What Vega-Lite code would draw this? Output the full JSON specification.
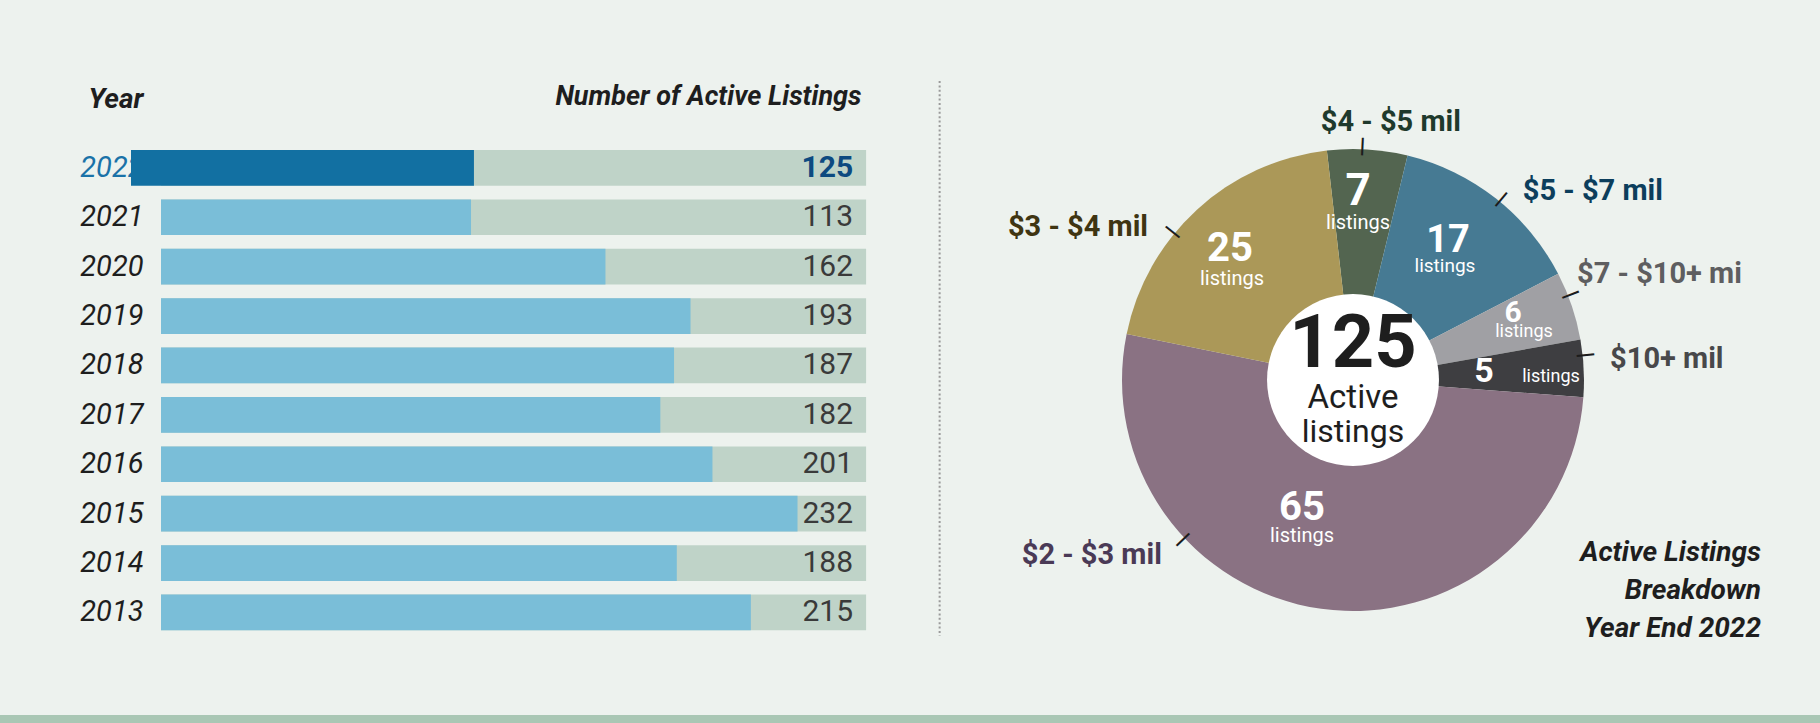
{
  "$schema": "https://vega.github.io/schema/vega-lite/v6.json",
  "background": "#edf2ee",
  "padding": 0,
  "autosize": {"type": "pad"},
  "bounds": "full",
  "spacing": 0,
  "config": {
    "view": {"stroke": null},
    "font": "Roboto",
    "text": {"font": "Roboto"},
    "axis": {"labelFont": "Roboto", "titleFont": "Roboto", "grid": false},
    "title": {"font": "Roboto"}
  },
  "datasets": {
    "listings": [
      {"year": 2022, "count": 125},
      {"year": 2021, "count": 113},
      {"year": 2020, "count": 162},
      {"year": 2019, "count": 193},
      {"year": 2018, "count": 187},
      {"year": 2017, "count": 182},
      {"year": 2016, "count": 201},
      {"year": 2015, "count": 232},
      {"year": 2014, "count": 188},
      {"year": 2013, "count": 215}
    ],
    "breakdown": [
      {"range": "$4 - $5 mil", "count": 7},
      {"range": "$5 - $7 mil", "count": 17},
      {"range": "$7 - $10+ mil", "count": 6},
      {"range": "$10+ mil", "count": 5},
      {"range": "$2 - $3 mil", "count": 65},
      {"range": "$3 - $4 mil", "count": 25}
    ]
  },
  "vconcat": [
    {
      "bounds": "flush",
      "spacing": 0,
      "hconcat": [
        {"width": 161, "height": 715, "data": {"values": [{}]}, "mark": {"type": "point", "opacity": 0}},
        {
          "width": 780,
          "height": 715,
          "data": {"name": "listings"},
          "encoding": {
            "y": {
              "field": "year", "type": "ordinal", "sort": "descending",
              "scale": {"range": [150, 630.3], "paddingInner": 0.2773, "paddingOuter": 0},
              "axis": {
                "title": "Year", "titleAngle": 0, "titleAlign": "right", "titleBaseline": "alphabetic",
                "titleX": -18, "titleY": 107, "titleFontSize": 28, "titleFontStyle": "italic",
                "titleFontWeight": "bold", "titleColor": "#1e1e1e",
                "ticks": false, "domain": false, "labelPadding": 18, "labelFontSize": 29,
                "labelFontStyle": "italic",
                "labelColor": {"condition": {"test": "datum.value == 2022", "value": "#1a72a8"}, "value": "#1e1e1e"}
              }
            }
          },
          "layer": [
            {
              "mark": {"type": "bar", "color": "#bfd3c8"},
              "encoding": {
                "x": {
                  "datum": 0, "type": "quantitative",
                  "scale": {"domain": [0, 284.3], "nice": false, "zero": true},
                  "axis": {
                    "orient": "top", "title": "Number of Active Listings", "labels": false, "ticks": false,
                    "domain": false, "grid": false, "titleX": 700, "titleY": 104, "titleAlign": "right",
                    "titleBaseline": "alphabetic", "titleFontSize": 27, "titleFontStyle": "italic",
                    "titleFontWeight": "bold", "titleColor": "#1e1e1e"
                  }
                },
                "x2": {"datum": 257}
              }
            },
            {
              "transform": [{"filter": "datum.year != 2022"}],
              "mark": {"type": "bar", "color": "#7abed8"},
              "encoding": {
                "x": {"field": "count", "type": "quantitative", "scale": {"domain": [0, 284.3], "nice": false, "zero": true}}
              }
            },
            {
              "transform": [{"filter": "datum.year == 2022"}],
              "mark": {"type": "bar", "color": "#1270a2", "xOffset": -30, "x2Offset": -30},
              "encoding": {
                "x": {"field": "count", "type": "quantitative", "scale": {"domain": [0, 284.3], "nice": false, "zero": true}}
              }
            },
            {
              "transform": [{"filter": "datum.year != 2022"}],
              "mark": {"type": "text", "align": "right", "baseline": "middle", "dx": -13, "fontSize": 30, "color": "#3a3a3a"},
              "encoding": {
                "x": {"datum": 257, "type": "quantitative", "scale": {"domain": [0, 284.3], "nice": false, "zero": true}},
                "text": {"field": "count", "type": "quantitative"}
              }
            },
            {
              "transform": [{"filter": "datum.year == 2022"}],
              "mark": {"type": "text", "align": "right", "baseline": "middle", "dx": -13, "fontSize": 30, "fontWeight": "bold", "color": "#0d4a80"},
              "encoding": {
                "x": {"datum": 257, "type": "quantitative", "scale": {"domain": [0, 284.3], "nice": false, "zero": true}},
                "text": {"field": "count", "type": "quantitative"}
              }
            },
            {
              "data": {"values": [{}]},
              "mark": {"type": "rule", "color": "#9a9a9a", "strokeWidth": 2, "strokeDash": [2, 2.4], "yOffset": -86.85, "y2Offset": 23.55},
              "encoding": {
                "x": {"datum": 283.8, "type": "quantitative", "scale": {"domain": [0, 284.3], "nice": false, "zero": true}},
                "y": {"datum": 2022, "type": "ordinal"},
                "y2": {"datum": 2013}
              }
            }
          ]
        },
        {
          "width": 824,
          "height": 715,
          "data": {"name": "breakdown"},
          "transform": [{"window": [{"op": "row_number", "as": "slice"}]}],
          "title": {
            "text": ["Active Listings", "Breakdown", "Year End 2022"],
            "orient": "bottom", "anchor": "end", "frame": "group", "offset": -176, "dx": -4,
            "fontSize": 28, "fontStyle": "italic", "fontWeight": "bold", "color": "#1e1e1e", "lineHeight": 38
          },
          "layer": [
            {
              "mark": {"type": "arc", "radius": 231, "yOffset": 22.5},
              "encoding": {
                "theta": {"field": "count", "type": "quantitative", "stack": true, "scale": {"range": [-0.1134, 6.1698]}},
                "order": {"field": "slice", "type": "quantitative"},
                "color": {
                  "field": "range", "type": "nominal", "legend": null,
                  "scale": {
                    "domain": ["$4 - $5 mil", "$5 - $7 mil", "$7 - $10+ mil", "$10+ mil", "$2 - $3 mil", "$3 - $4 mil"],
                    "range": ["#536550", "#467a93", "#a0a0a4", "#3e3e41", "#8a7283", "#ab9858"]
                  }
                }
              }
            },
            {
              "mark": {"type": "text", "radius": 233.5, "thetaOffset": -0.0154, "angle": -87.3, "fontSize": 27, "color": "#1c1c1c", "align": "center", "baseline": "middle", "yOffset": 22.5},
              "encoding": {
                "theta": {"field": "count", "type": "quantitative", "stack": true},
                "order": {"field": "slice", "type": "quantitative"},
                "detail": {"field": "range"},
                "text": {"condition": {"test": "datum.range === '$4 - $5 mil'", "value": "—"}, "value": ""}
              }
            },
            {
              "mark": {"type": "text", "radius": 233.5, "thetaOffset": 0.029, "angle": -50.2, "fontSize": 27, "color": "#1c1c1c", "align": "center", "baseline": "middle", "yOffset": 22.5},
              "encoding": {
                "theta": {"field": "count", "type": "quantitative", "stack": true},
                "order": {"field": "slice", "type": "quantitative"},
                "detail": {"field": "range"},
                "text": {"condition": {"test": "datum.range === '$5 - $7 mil'", "value": "—"}, "value": ""}
              }
            },
            {
              "mark": {"type": "text", "radius": 233.5, "thetaOffset": -0.0394, "angle": -21, "fontSize": 27, "color": "#1c1c1c", "align": "center", "baseline": "middle", "yOffset": 22.5},
              "encoding": {
                "theta": {"field": "count", "type": "quantitative", "stack": true},
                "order": {"field": "slice", "type": "quantitative"},
                "detail": {"field": "range"},
                "text": {"condition": {"test": "datum.range === '$7 - $10+ mil'", "value": "—"}, "value": ""}
              }
            },
            {
              "mark": {"type": "text", "radius": 233.5, "thetaOffset": -0.0489, "angle": -5.7, "fontSize": 27, "color": "#1c1c1c", "align": "center", "baseline": "middle", "yOffset": 22.5},
              "encoding": {
                "theta": {"field": "count", "type": "quantitative", "stack": true},
                "order": {"field": "slice", "type": "quantitative"},
                "detail": {"field": "range"},
                "text": {"condition": {"test": "datum.range === '$10+ mil'", "value": "—"}, "value": ""}
              }
            },
            {
              "mark": {"type": "text", "radius": 233.5, "thetaOffset": 0.672, "angle": -43.6, "fontSize": 27, "color": "#1c1c1c", "align": "center", "baseline": "middle", "yOffset": 22.5},
              "encoding": {
                "theta": {"field": "count", "type": "quantitative", "stack": true},
                "order": {"field": "slice", "type": "quantitative"},
                "detail": {"field": "range"},
                "text": {"condition": {"test": "datum.range === '$2 - $3 mil'", "value": "—"}, "value": ""}
              }
            },
            {
              "mark": {"type": "text", "radius": 233.5, "thetaOffset": -0.1484, "angle": 39, "fontSize": 27, "color": "#1c1c1c", "align": "center", "baseline": "middle", "yOffset": 22.5},
              "encoding": {
                "theta": {"field": "count", "type": "quantitative", "stack": true},
                "order": {"field": "slice", "type": "quantitative"},
                "detail": {"field": "range"},
                "text": {"condition": {"test": "datum.range === '$3 - $4 mil'", "value": "—"}, "value": ""}
              }
            },
            {
              "transform": [{"aggregate": [{"op": "sum", "field": "count", "as": "total"}]}],
              "mark": {"type": "circle", "size": 29560, "color": "#ffffff", "opacity": 1, "yOffset": 22.5},
              "encoding": {}
            },
            {
              "transform": [{"aggregate": [{"op": "sum", "field": "count", "as": "total"}]}],
              "mark": {"type": "text", "fontSize": 74, "fontWeight": "bold", "color": "#1e1e1e", "dy": -35, "align": "center", "baseline": "middle", "yOffset": 22.5},
              "encoding": {"text": {"field": "total", "type": "quantitative"}}
            },
            {
              "transform": [{"aggregate": [{"op": "sum", "field": "count", "as": "total"}]}],
              "mark": {"type": "text", "text": "Active", "fontSize": 33, "color": "#1e1e1e", "dy": 18, "align": "center", "baseline": "middle", "yOffset": 22.5},
              "encoding": {}
            },
            {
              "transform": [{"aggregate": [{"op": "sum", "field": "count", "as": "total"}]}],
              "mark": {"type": "text", "text": "listings", "fontSize": 32, "color": "#1e1e1e", "dy": 52, "align": "center", "baseline": "middle", "yOffset": 22.5},
              "encoding": {}
            },
            {
              "mark": {"type": "text", "radius": 187.7, "thetaOffset": -0.0358, "fontSize": 44, "fontWeight": "bold", "color": "#ffffff", "align": "center", "baseline": "middle", "yOffset": 22.5},
              "encoding": {
                "theta": {"field": "count", "type": "quantitative", "stack": true},
                "order": {"field": "slice", "type": "quantitative"},
                "detail": {"field": "range"},
                "text": {"condition": {"test": "datum.range === '$4 - $5 mil'", "field": "count", "type": "quantitative"}, "value": ""}
              }
            },
            {
              "mark": {"type": "text", "radius": 156.9, "thetaOffset": -0.0305, "fontSize": 20, "color": "#ffffff", "align": "center", "baseline": "middle", "yOffset": 22.5},
              "encoding": {
                "theta": {"field": "count", "type": "quantitative", "stack": true},
                "order": {"field": "slice", "type": "quantitative"},
                "detail": {"field": "range"},
                "text": {"condition": {"test": "datum.range === '$4 - $5 mil'", "value": "listings"}, "value": ""}
              }
            },
            {
              "mark": {"type": "text", "radius": 168.3, "thetaOffset": -0.0658, "fontSize": 38, "fontWeight": "bold", "color": "#ffffff", "align": "center", "baseline": "middle", "yOffset": 22.5},
              "encoding": {
                "theta": {"field": "count", "type": "quantitative", "stack": true},
                "order": {"field": "slice", "type": "quantitative"},
                "detail": {"field": "range"},
                "text": {"condition": {"test": "datum.range === '$5 - $7 mil'", "field": "count", "type": "quantitative"}, "value": ""}
              }
            },
            {
              "mark": {"type": "text", "radius": 146.3, "thetaOffset": 0.0143, "fontSize": 19, "color": "#ffffff", "align": "center", "baseline": "middle", "yOffset": 22.5},
              "encoding": {
                "theta": {"field": "count", "type": "quantitative", "stack": true},
                "order": {"field": "slice", "type": "quantitative"},
                "detail": {"field": "range"},
                "text": {"condition": {"test": "datum.range === '$5 - $7 mil'", "value": "listings"}, "value": ""}
              }
            },
            {
              "mark": {"type": "text", "radius": 173.6, "thetaOffset": -0.0716, "fontSize": 30, "fontWeight": "bold", "color": "#ffffff", "align": "center", "baseline": "middle", "yOffset": 22.5},
              "encoding": {
                "theta": {"field": "count", "type": "quantitative", "stack": true},
                "order": {"field": "slice", "type": "quantitative"},
                "detail": {"field": "range"},
                "text": {"condition": {"test": "datum.range === '$7 - $10+ mil'", "field": "count", "type": "quantitative"}, "value": ""}
              }
            },
            {
              "mark": {"type": "text", "radius": 177.5, "thetaOffset": 0.0548, "fontSize": 18, "color": "#ffffff", "align": "center", "baseline": "middle", "yOffset": 22.5},
              "encoding": {
                "theta": {"field": "count", "type": "quantitative", "stack": true},
                "order": {"field": "slice", "type": "quantitative"},
                "detail": {"field": "range"},
                "text": {"condition": {"test": "datum.range === '$7 - $10+ mil'", "value": "listings"}, "value": ""}
              }
            },
            {
              "mark": {"type": "text", "radius": 131.2, "thetaOffset": -0.0073, "fontSize": 34, "fontWeight": "bold", "color": "#ffffff", "align": "center", "baseline": "middle", "yOffset": 22.5},
              "encoding": {
                "theta": {"field": "count", "type": "quantitative", "stack": true},
                "order": {"field": "slice", "type": "quantitative"},
                "detail": {"field": "range"},
                "text": {"condition": {"test": "datum.range === '$10+ mil'", "field": "count", "type": "quantitative"}, "value": ""}
              }
            },
            {
              "mark": {"type": "text", "radius": 198, "thetaOffset": 0.0367, "fontSize": 18, "color": "#ffffff", "align": "center", "baseline": "middle", "yOffset": 22.5},
              "encoding": {
                "theta": {"field": "count", "type": "quantitative", "stack": true},
                "order": {"field": "slice", "type": "quantitative"},
                "detail": {"field": "range"},
                "text": {"condition": {"test": "datum.range === '$10+ mil'", "value": "listings"}, "value": ""}
              }
            },
            {
              "mark": {"type": "text", "radius": 137.9, "thetaOffset": 0.2407, "fontSize": 40, "fontWeight": "bold", "color": "#ffffff", "align": "center", "baseline": "middle", "yOffset": 22.5},
              "encoding": {
                "theta": {"field": "count", "type": "quantitative", "stack": true},
                "order": {"field": "slice", "type": "quantitative"},
                "detail": {"field": "range"},
                "text": {"condition": {"test": "datum.range === '$2 - $3 mil'", "field": "count", "type": "quantitative"}, "value": ""}
              }
            },
            {
              "mark": {"type": "text", "radius": 164.3, "thetaOffset": 0.1777, "fontSize": 20, "color": "#ffffff", "align": "center", "baseline": "middle", "yOffset": 22.5},
              "encoding": {
                "theta": {"field": "count", "type": "quantitative", "stack": true},
                "order": {"field": "slice", "type": "quantitative"},
                "detail": {"field": "range"},
                "text": {"condition": {"test": "datum.range === '$2 - $3 mil'", "value": "listings"}, "value": ""}
              }
            },
            {
              "mark": {"type": "text", "radius": 179.5, "thetaOffset": -0.0129, "fontSize": 40, "fontWeight": "bold", "color": "#ffffff", "align": "center", "baseline": "middle", "yOffset": 22.5},
              "encoding": {
                "theta": {"field": "count", "type": "quantitative", "stack": true},
                "order": {"field": "slice", "type": "quantitative"},
                "detail": {"field": "range"},
                "text": {"condition": {"test": "datum.range === '$3 - $4 mil'", "field": "count", "type": "quantitative"}, "value": ""}
              }
            },
            {
              "mark": {"type": "text", "radius": 157.5, "thetaOffset": -0.1344, "fontSize": 20, "color": "#ffffff", "align": "center", "baseline": "middle", "yOffset": 22.5},
              "encoding": {
                "theta": {"field": "count", "type": "quantitative", "stack": true},
                "order": {"field": "slice", "type": "quantitative"},
                "detail": {"field": "range"},
                "text": {"condition": {"test": "datum.range === '$3 - $4 mil'", "value": "listings"}, "value": ""}
              }
            },
            {
              "mark": {"type": "text", "radius": 261, "thetaOffset": 0.083, "fontSize": 29, "fontWeight": "bold", "color": "#1f3a2c", "align": "center", "baseline": "middle", "yOffset": 22.5},
              "encoding": {
                "theta": {"field": "count", "type": "quantitative", "stack": true},
                "order": {"field": "slice", "type": "quantitative"},
                "detail": {"field": "range"},
                "text": {"condition": {"test": "datum.range === '$4 - $5 mil'", "field": "range"}, "value": ""}
              }
            },
            {
              "mark": {"type": "text", "radius": 254, "thetaOffset": 0.0668, "fontSize": 29, "fontWeight": "bold", "color": "#0c3e5c", "align": "left", "baseline": "middle", "yOffset": 22.5},
              "encoding": {
                "theta": {"field": "count", "type": "quantitative", "stack": true},
                "order": {"field": "slice", "type": "quantitative"},
                "detail": {"field": "range"},
                "text": {"condition": {"test": "datum.range === '$5 - $7 mil'", "field": "range"}, "value": ""}
              }
            },
            {
              "mark": {"type": "text", "radius": 248, "thetaOffset": -0.1164, "fontSize": 29, "fontWeight": "bold", "color": "#5e5e60", "align": "left", "baseline": "middle", "limit": 172, "ellipsis": "\u200b", "yOffset": 22.5},
              "encoding": {
                "theta": {"field": "count", "type": "quantitative", "stack": true},
                "order": {"field": "slice", "type": "quantitative"},
                "detail": {"field": "range"},
                "text": {"condition": {"test": "datum.range === '$7 - $10+ mil'", "field": "range"}, "value": ""}
              }
            },
            {
              "mark": {"type": "text", "radius": 258, "thetaOffset": -0.0325, "fontSize": 29, "fontWeight": "bold", "color": "#48484a", "align": "left", "baseline": "middle", "yOffset": 22.5},
              "encoding": {
                "theta": {"field": "count", "type": "quantitative", "stack": true},
                "order": {"field": "slice", "type": "quantitative"},
                "detail": {"field": "range"},
                "text": {"condition": {"test": "datum.range === '$10+ mil'", "field": "range"}, "value": ""}
              }
            },
            {
              "mark": {"type": "text", "radius": 259, "thetaOffset": 0.6924, "fontSize": 29, "fontWeight": "bold", "color": "#4a3a56", "align": "right", "baseline": "middle", "yOffset": 22.5},
              "encoding": {
                "theta": {"field": "count", "type": "quantitative", "stack": true},
                "order": {"field": "slice", "type": "quantitative"},
                "detail": {"field": "range"},
                "text": {"condition": {"test": "datum.range === '$2 - $3 mil'", "field": "range"}, "value": ""}
              }
            },
            {
              "mark": {"type": "text", "radius": 256, "thetaOffset": -0.1868, "fontSize": 29, "fontWeight": "bold", "color": "#3f3512", "align": "right", "baseline": "middle", "yOffset": 22.5},
              "encoding": {
                "theta": {"field": "count", "type": "quantitative", "stack": true},
                "order": {"field": "slice", "type": "quantitative"},
                "detail": {"field": "range"},
                "text": {"condition": {"test": "datum.range === '$3 - $4 mil'", "field": "range"}, "value": ""}
              }
            }
          ]
        },
        {"width": 55, "height": 715, "data": {"values": [{}]}, "mark": {"type": "point", "opacity": 0}}
      ]
    },
    {
      "width": 1820,
      "height": 8,
      "data": {"values": [{}]},
      "mark": {"type": "rect", "color": "#a9c7b4"},
      "encoding": {
        "x": {"datum": 0, "type": "quantitative", "scale": {"domain": [0, 1]}, "axis": null},
        "x2": {"datum": 1},
        "y": {"datum": 0, "type": "quantitative", "scale": {"domain": [0, 1]}, "axis": null},
        "y2": {"datum": 1}
      }
    }
  ]
}
